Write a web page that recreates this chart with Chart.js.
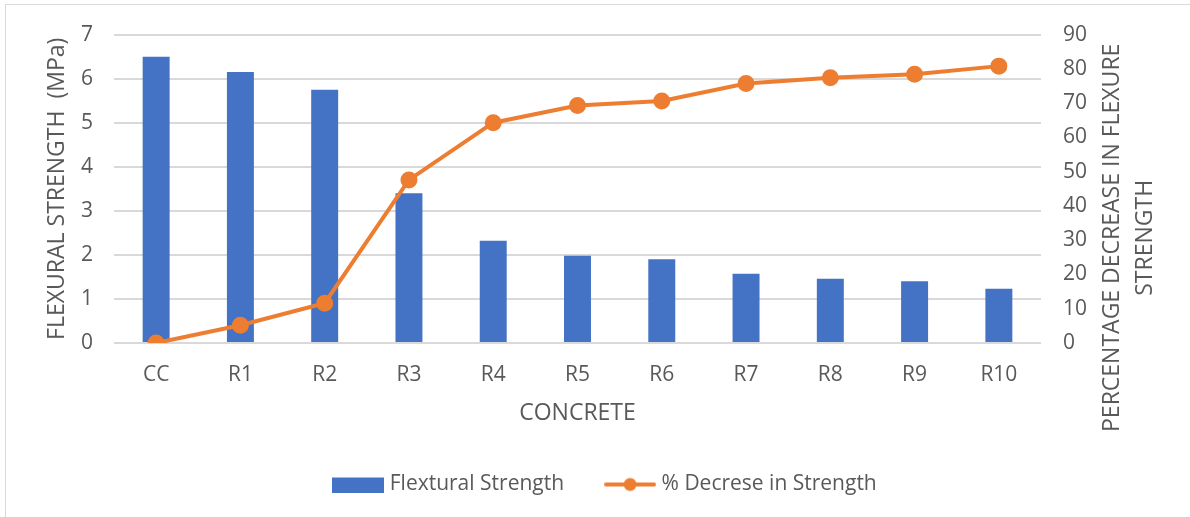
<!DOCTYPE html>
<html>
<head>
<meta charset="utf-8">
<script src="https://cdn.jsdelivr.net/npm/chart.js@4.4.0/dist/chart.umd.min.js"></script>
<style>
  html, body { margin: 0; padding: 0; background: #fff; overflow: hidden; }
  #wrap { position: relative; width: 1190px; height: 517px; }
  #frame { position: absolute; left: 5px; top: 4px; width: 1200px; height: 600px; border: 1px solid #d9d9d9; box-sizing: border-box; }
  canvas { position: absolute; left: 0; top: 0; }
</style>
</head>
<body>
<div id="wrap">
  <div id="frame"></div>
  <canvas id="comboChart" width="1190" height="517"></canvas>
</div>
<script>
// DATA
const categories = ["CC", "R1", "R2", "R3", "R4", "R5", "R6", "R7", "R8", "R9", "R10"];
const flexuralStrength = [6.5, 6.15, 5.75, 3.4, 2.32, 1.98, 1.9, 1.57, 1.46, 1.4, 1.23];
const percentDecrease = [0, 5.2, 11.6, 47.6, 64.3, 69.3, 70.6, 75.7, 77.4, 78.4, 80.8];
const leftTicks = [0, 1, 2, 3, 4, 5, 6, 7];
const rightTicks = [0, 10, 20, 30, 40, 50, 60, 70, 80, 90];

const BLUE = "#4472c4";
const ORANGE = "#ed7d31";
const TEXT = "#595959";
const GRID = "#d9d9d9";
const FONT = "'Open Sans', sans-serif";

// legend swatches
function swatch(kind) {
  const c = document.createElement("canvas");
  c.width = 52; c.height = 16;
  const g = c.getContext("2d");
  if (kind === "bar") {
    g.fillStyle = BLUE;
    g.fillRect(0, 1, 52, 15);
  } else {
    g.strokeStyle = ORANGE;
    g.lineWidth = 4;
    g.lineCap = "round";
    g.beginPath(); g.moveTo(2, 8); g.lineTo(50, 8); g.stroke();
    g.fillStyle = ORANGE;
    g.beginPath(); g.arc(26, 8, 6.5, 0, Math.PI * 2); g.fill();
  }
  return c;
}

// right axis title reads bottom-to-top like Excel
const rightTitle = {
  id: "rightTitle",
  afterDraw(chart) {
    const s = chart.scales.y2;
    const ctx = chart.ctx;
    const cy = (chart.chartArea.top + chart.chartArea.bottom) / 2 + 49;
    ctx.save();
    ctx.fillStyle = TEXT;
    ctx.font = "23px " + FONT;
    ctx.textAlign = "center";
    ctx.textBaseline = "middle";
    ctx.translate(s.right - 78, cy);
    ctx.rotate(-Math.PI / 2);
    ctx.fillText("PERCENTAGE DECREASE IN FLEXURE", 0, 0);
    ctx.fillText("STRENGTH", 0, 33);
    ctx.restore();
  }
};

new Chart(document.getElementById("comboChart"), {
  data: {
    labels: categories,
    datasets: [
      {
        type: "line",
        label: "% Decrese in Strength",
        data: percentDecrease,
        yAxisID: "y2",
        borderColor: ORANGE,
        backgroundColor: ORANGE,
        borderWidth: 4,
        pointRadius: 6.5,
        pointHoverRadius: 6.5,
        tension: 0,
        order: 0
      },
      {
        type: "bar",
        label: "Flextural Strength",
        data: flexuralStrength,
        yAxisID: "y",
        backgroundColor: BLUE,
        barPercentage: 0.64,
        categoryPercentage: 0.5,
        order: 1
      }
    ]
  },
  options: {
    responsive: false,
    animation: false,
    layout: { padding: { top: 22, left: 24, right: 0, bottom: 12 } },
    plugins: {
      tooltip: { enabled: false },
      legend: {
        position: "bottom",
        labels: {
          color: TEXT,
          font: { family: FONT, size: 21 },
          usePointStyle: true,
          pointStyleWidth: 42,
          padding: 45,
          generateLabels(chart) {
            return [
              { text: "Flextural Strength", pointStyle: swatch("bar"), fillStyle: BLUE, strokeStyle: BLUE, lineWidth: 0, datasetIndex: 1, fontColor: TEXT },
              { text: "% Decrese in Strength", pointStyle: swatch("line"), fillStyle: ORANGE, strokeStyle: ORANGE, lineWidth: 0, datasetIndex: 0, fontColor: TEXT }
            ];
          }
        }
      }
    },
    scales: {
      x: {
        grid: { display: false, drawTicks: false },
        border: { display: false },
        ticks: { color: TEXT, font: { family: FONT, size: 21 }, padding: 19 },
        title: { display: true, text: "CONCRETE", color: TEXT, font: { family: FONT, size: 23 }, padding: { top: 0, bottom: 2 } },
        afterFit(s) { s.height = 86; }
      },
      y: {
        position: "left",
        min: 0, max: 7,
        afterBuildTicks(s) { s.ticks = leftTicks.map(v => ({ value: v })); },
        grid: { color: GRID, lineWidth: 2, drawTicks: false },
        border: { display: false },
        ticks: { color: TEXT, font: { family: FONT, size: 21 }, padding: 21 },
        title: { display: true, text: "FLEXURAL STRENGTH  (MPa)", color: TEXT, font: { family: FONT, size: 23 }, padding: { top: 20, bottom: 0 } },
        afterFit(s) { s.width = 90; }
      },
      y2: {
        position: "right",
        min: 0, max: 90,
        afterBuildTicks(s) { s.ticks = rightTicks.map(v => ({ value: v })); },
        grid: { display: false, drawTicks: false },
        border: { display: false },
        ticks: { color: TEXT, font: { family: FONT, size: 21 }, padding: 22 },
        afterFit(s) { s.width = 149; }
      }
    }
  },
  plugins: [rightTitle]
});
</script>
</body>
</html>
